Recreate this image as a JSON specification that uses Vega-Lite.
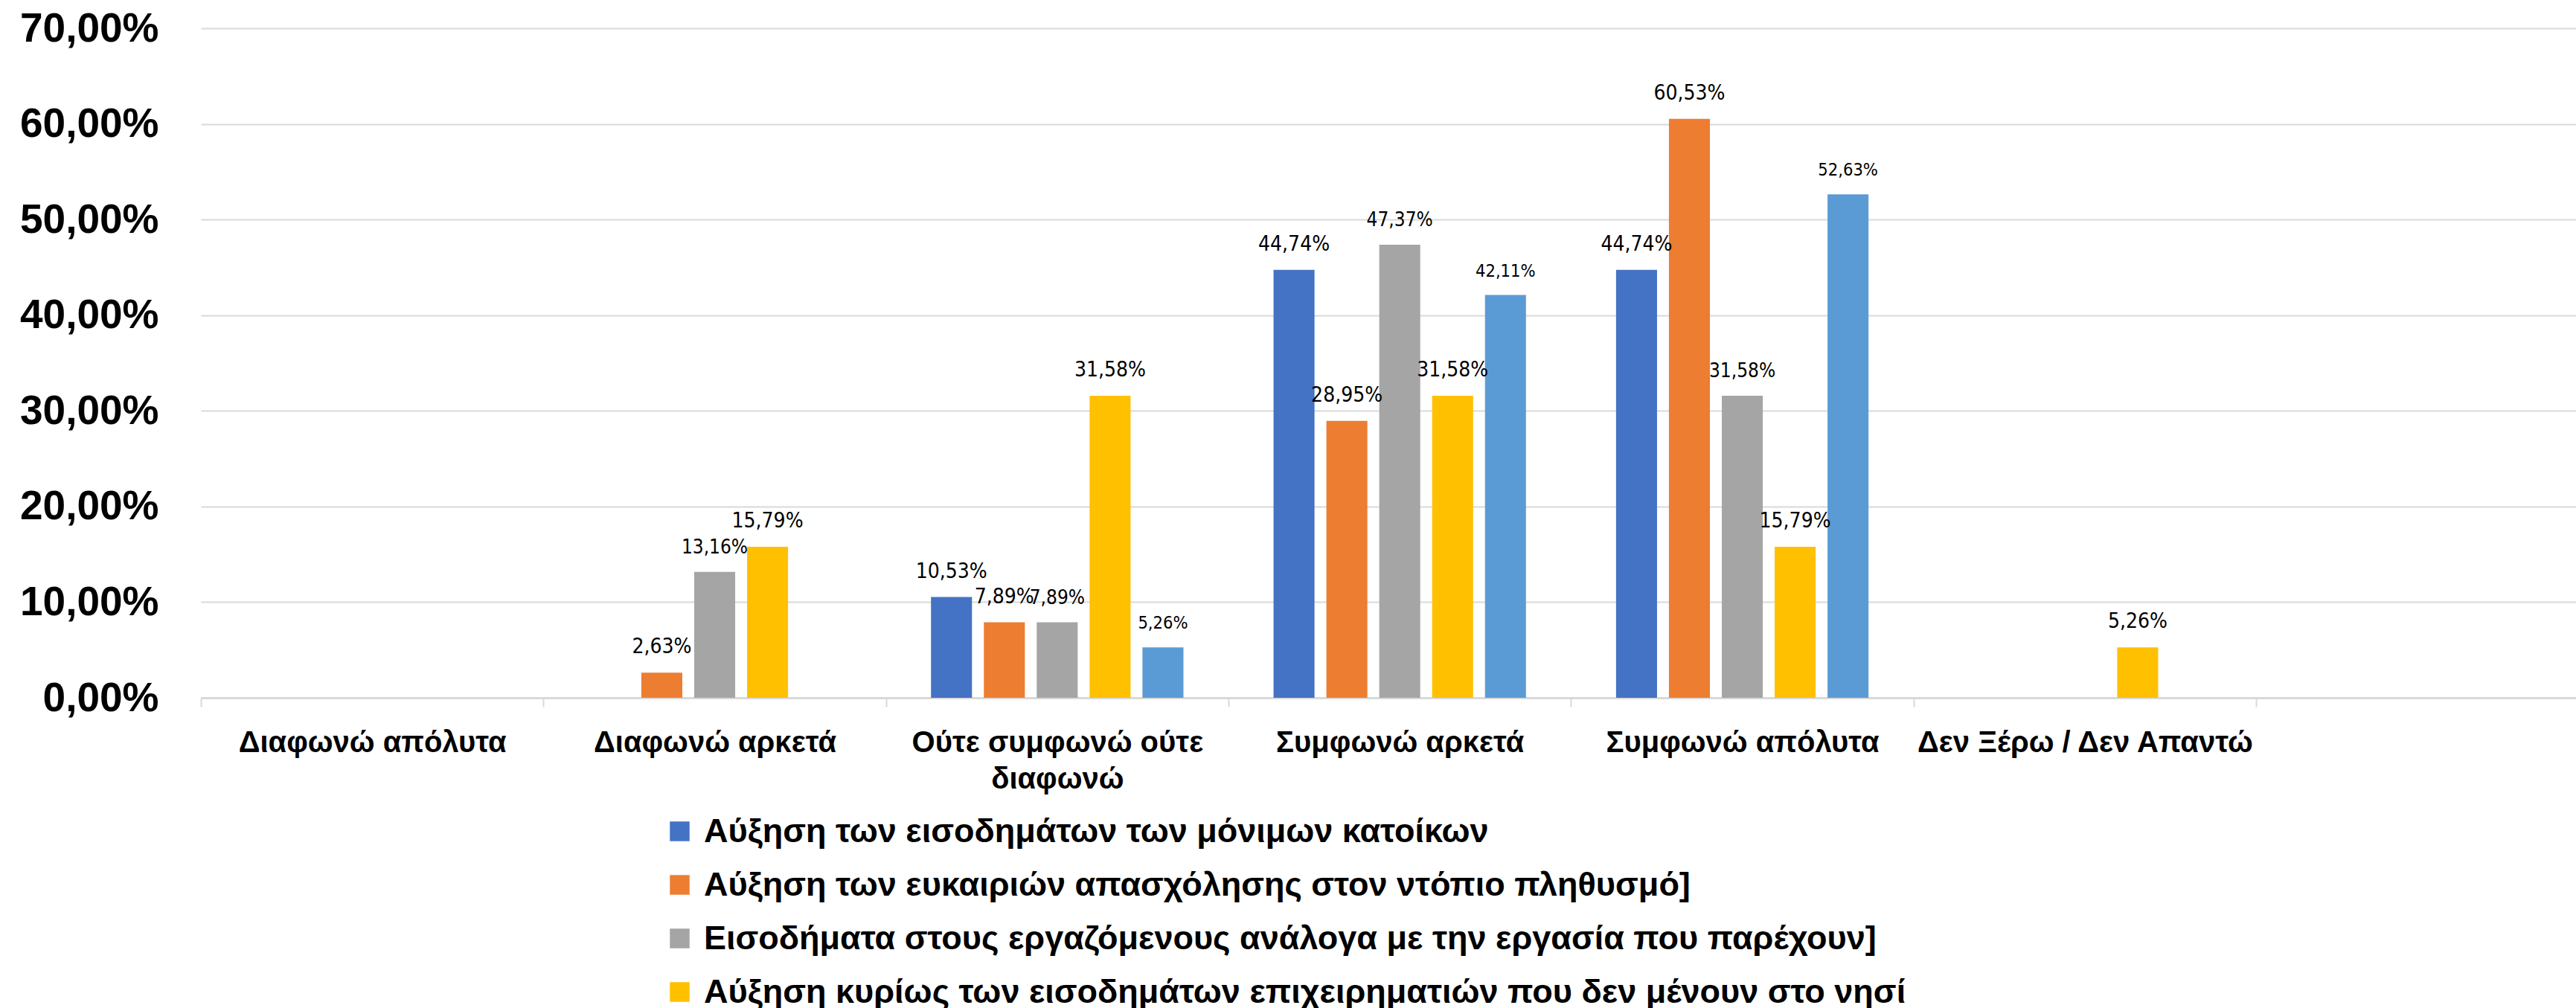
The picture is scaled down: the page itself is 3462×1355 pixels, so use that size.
{
  "$schema": "https://vega.github.io/schema/vega-lite/v6.json",
  "width": 3192,
  "height": 900,
  "autosize": {"type": "none"},
  "padding": {"left": 270, "top": 38, "right": 0, "bottom": 417},
  "background": "white",
  "config": {
    "locale": {"number": {"decimal": ",", "thousands": ".", "grouping": [3], "currency": ["", " €"]}},
    "view": {"stroke": null}
  },
  "data": {
    "values": [
      {"cat": "Διαφωνώ αρκετά", "series": "Αύξηση των ευκαιριών απασχόλησης στον ντόπιο πληθυσμό]", "value": 0.0263},
      {"cat": "Διαφωνώ αρκετά", "series": "Εισοδήματα στους εργαζόμενους ανάλογα με την εργασία που παρέχουν]", "value": 0.1316},
      {"cat": "Διαφωνώ αρκετά", "series": "Αύξηση κυρίως των εισοδημάτων επιχειρηματιών που δεν μένουν στο νησί", "value": 0.1579},
      {"cat": "Ούτε συμφωνώ ούτε διαφωνώ", "series": "Αύξηση των εισοδημάτων των μόνιμων κατοίκων", "value": 0.1053},
      {"cat": "Ούτε συμφωνώ ούτε διαφωνώ", "series": "Αύξηση των ευκαιριών απασχόλησης στον ντόπιο πληθυσμό]", "value": 0.0789},
      {"cat": "Ούτε συμφωνώ ούτε διαφωνώ", "series": "Εισοδήματα στους εργαζόμενους ανάλογα με την εργασία που παρέχουν]", "value": 0.0789},
      {"cat": "Ούτε συμφωνώ ούτε διαφωνώ", "series": "Αύξηση κυρίως των εισοδημάτων επιχειρηματιών που δεν μένουν στο νησί", "value": 0.3158},
      {"cat": "Ούτε συμφωνώ ούτε διαφωνώ", "series": "Άλλο", "value": 0.0526},
      {"cat": "Συμφωνώ αρκετά", "series": "Αύξηση των εισοδημάτων των μόνιμων κατοίκων", "value": 0.4474},
      {"cat": "Συμφωνώ αρκετά", "series": "Αύξηση των ευκαιριών απασχόλησης στον ντόπιο πληθυσμό]", "value": 0.2895},
      {"cat": "Συμφωνώ αρκετά", "series": "Εισοδήματα στους εργαζόμενους ανάλογα με την εργασία που παρέχουν]", "value": 0.4737},
      {"cat": "Συμφωνώ αρκετά", "series": "Αύξηση κυρίως των εισοδημάτων επιχειρηματιών που δεν μένουν στο νησί", "value": 0.3158},
      {"cat": "Συμφωνώ αρκετά", "series": "Άλλο", "value": 0.4211},
      {"cat": "Συμφωνώ απόλυτα", "series": "Αύξηση των εισοδημάτων των μόνιμων κατοίκων", "value": 0.4474},
      {"cat": "Συμφωνώ απόλυτα", "series": "Αύξηση των ευκαιριών απασχόλησης στον ντόπιο πληθυσμό]", "value": 0.6053},
      {"cat": "Συμφωνώ απόλυτα", "series": "Εισοδήματα στους εργαζόμενους ανάλογα με την εργασία που παρέχουν]", "value": 0.3158},
      {"cat": "Συμφωνώ απόλυτα", "series": "Αύξηση κυρίως των εισοδημάτων επιχειρηματιών που δεν μένουν στο νησί", "value": 0.1579},
      {"cat": "Συμφωνώ απόλυτα", "series": "Άλλο", "value": 0.5263},
      {"cat": "Δεν Ξέρω / Δεν Απαντώ", "series": "Αύξηση κυρίως των εισοδημάτων επιχειρηματιών που δεν μένουν στο νησί", "value": 0.0526}
    ]
  },
  "encoding": {
    "x": {
      "field": "cat",
      "type": "nominal",
      "sort": null,
      "scale": {
        "domain": ["Διαφωνώ απόλυτα", "Διαφωνώ αρκετά", "Ούτε συμφωνώ ούτε διαφωνώ", "Συμφωνώ αρκετά", "Συμφωνώ απόλυτα", "Δεν Ξέρω / Δεν Απαντώ"],
        "paddingInner": 0,
        "paddingOuter": 0.467,
        "align": 0
      },
      "axis": {
        "title": null,
        "grid": false,
        "domainColor": "#D9D9D9",
        "domainWidth": 3,
        "tickBand": "extent",
        "tickColor": "#D9D9D9",
        "tickWidth": 2,
        "tickSize": 12,
        "labelFont": "Liberation Sans",
        "labelFontWeight": "bold",
        "labelFontSize": 40,
        "labelColor": "#000000",
        "labelPadding": 28,
        "labelAngle": 0,
        "labelBaseline": "top",
        "labelLineHeight": 49,
        "labelLimit": 1000,
        "labelOverlap": false,
        "labelExpr": "datum.value == 'Ούτε συμφωνώ ούτε διαφωνώ' ? ['Ούτε συμφωνώ ούτε', 'διαφωνώ'] : datum.label"
      }
    },
    "xOffset": {
      "field": "series",
      "type": "nominal",
      "sort": null,
      "scale": {
        "domain": [
          "Αύξηση των εισοδημάτων των μόνιμων κατοίκων",
          "Αύξηση των ευκαιριών απασχόλησης στον ντόπιο πληθυσμό]",
          "Εισοδήματα στους εργαζόμενους ανάλογα με την εργασία που παρέχουν]",
          "Αύξηση κυρίως των εισοδημάτων επιχειρηματιών που δεν μένουν στο νησί",
          "Άλλο"
        ],
        "paddingInner": 0.225,
        "paddingOuter": 0.852
      }
    },
    "y": {
      "field": "value",
      "type": "quantitative",
      "scale": {"domain": [0, 0.7], "nice": false},
      "axis": {
        "title": null,
        "values": [0, 0.1, 0.2, 0.3, 0.4, 0.5, 0.6, 0.7],
        "format": ".2%",
        "grid": true,
        "gridColor": "#D9D9D9",
        "gridWidth": 2,
        "domain": false,
        "ticks": false,
        "labelFont": "Liberation Sans",
        "labelFontWeight": "bold",
        "labelFontSize": 55,
        "labelColor": "#000000",
        "labelPadding": 57,
        "labelLimit": 600
      }
    }
  },
  "layer": [
    {
      "mark": {"type": "bar"},
      "encoding": {
        "color": {
          "field": "series",
          "type": "nominal",
          "sort": null,
          "scale": {
            "domain": [
              "Αύξηση των εισοδημάτων των μόνιμων κατοίκων",
              "Αύξηση των ευκαιριών απασχόλησης στον ντόπιο πληθυσμό]",
              "Εισοδήματα στους εργαζόμενους ανάλογα με την εργασία που παρέχουν]",
              "Αύξηση κυρίως των εισοδημάτων επιχειρηματιών που δεν μένουν στο νησί",
              "Άλλο"
            ],
            "range": ["#4472C4", "#ED7D31", "#A5A5A5", "#FFC000", "#5B9BD5"]
          },
          "legend": {
            "title": null,
            "values": [
              "Αύξηση των εισοδημάτων των μόνιμων κατοίκων",
              "Αύξηση των ευκαιριών απασχόλησης στον ντόπιο πληθυσμό]",
              "Εισοδήματα στους εργαζόμενους ανάλογα με την εργασία που παρέχουν]",
              "Αύξηση κυρίως των εισοδημάτων επιχειρηματιών που δεν μένουν στο νησί"
            ],
            "orient": "none",
            "legendX": 621,
            "legendY": 1057,
            "direction": "vertical",
            "symbolType": "square",
            "symbolSize": 700,
            "symbolStrokeWidth": 0,
            "labelFont": "Liberation Sans",
            "labelFontWeight": "bold",
            "labelFontSize": 45,
            "labelColor": "#000000",
            "labelOffset": 10,
            "labelLimit": 3000,
            "rowPadding": 26
          }
        }
      }
    },
    {
      "transform": [{"filter": "datum.series != 'Εισοδήματα στους εργαζόμενους ανάλογα με την εργασία που παρέχουν]' && datum.series != 'Άλλο'"}],
      "mark": {"type": "text", "baseline": "bottom", "dy": -20, "font": "DejaVu Sans Condensed", "fontSize": 28, "color": "#000000"},
      "encoding": {
        "text": {"field": "value", "type": "quantitative", "format": ".2%"}
      }
    },
    {
      "transform": [{"filter": "datum.series == 'Εισοδήματα στους εργαζόμενους ανάλογα με την εργασία που παρέχουν]'"}],
      "mark": {"type": "text", "baseline": "bottom", "dy": -20, "font": "DejaVu Sans Condensed", "fontSize": 26, "color": "#000000"},
      "encoding": {
        "text": {"field": "value", "type": "quantitative", "format": ".2%"}
      }
    },
    {
      "transform": [{"filter": "datum.series == 'Άλλο'"}],
      "mark": {"type": "text", "baseline": "bottom", "dy": -20, "font": "DejaVu Sans Condensed", "fontSize": 23.5, "color": "#000000"},
      "encoding": {
        "text": {"field": "value", "type": "quantitative", "format": ".2%"}
      }
    }
  ]
}
